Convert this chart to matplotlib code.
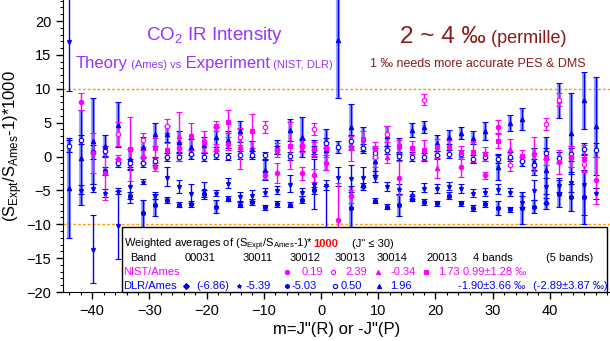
#!/usr/bin/env python3
# -*- coding: utf-8 -*-
import matplotlib
matplotlib.use("Agg")
import matplotlib.pyplot as plt
import numpy as np
from matplotlib.patches import Rectangle
from matplotlib.ticker import MultipleLocator

nan = np.nan

# m = J"(R) or -J"(P): x position of each column of points
m = [-44.1, -41.9, -39.8, -37.7, -35.5, -33.4, -31.2, -29.1, -27.0, -24.8,
     -22.7, -20.5, -18.4, -16.2, -14.1, -12.0, -9.8, -7.7, -5.5, -3.4,
     -1.3, 0.9, 3.0, 5.2, 7.3, 9.5, 11.6, 13.7, 15.9, 18.0,
     20.2, 22.3, 24.5, 26.6, 28.7, 30.9, 33.0, 35.2, 37.3, 39.4,
     41.6, 43.7, 45.9, 48.0]

# DLR/Ames, one value per column
dlr_30014 = [-4.7, -0.2, 2.3, 1.6, 4.7, -0.4, 1.4, 3.3, 3.3, 2.2,
             1.4, 1.7, 2.9, 2.5, 3.7, 1.1, -2.0, 1.4, 3.9, 2.9,
             1.2, 1.0, 17.2, 4.4, 2.6, -0.7, 3.0, 1.6, 3.9, 4.4,
             2.0, 2.9, 3.5, 2.8, 3.8, -1.6, 4.9, 5.5, -0.8, -2.0,
             8.3, 3.4, 8.3, 4.5]
dlr_30014_err = [7.4, 7.0, 6.3, 1.5, 3.3, 1.5, 1.5, 1.7, 1.2, 1.5,
                 1.2, 1.2, 1.5, 1.2, 1.5, 1.2, 1.5, 1.0, 1.6, 3.0,
                 1.2, 3.0, 8.5, 3.4, 1.8, 2.0, 1.5, 1.2, 1.0, 0.9,
                 1.2, 1.0, 0.9, 1.0, 1.3, 1.8, 1.2, 1.6, 2.0, 4.9,
                 2.6, 6.0, 4.2, 7.3]
dlr_30013 = [1.5, 2.5, 0.7, 0.8, -1.0, -0.9, -0.9, -0.6, -0.1, -0.1,
             0.3, -0.1, 0.2, 0.0, 0.2, 0.2, 0.2, 1.0, 0.1, 1.6,
             1.0, 2.0, 1.4, 2.3, 1.2, 0.5, 0.9, 0.1, 0.0, -0.1,
             0.2, 0.4, 0.3, -0.4, 0.0, -0.3, 0.0, -0.7, -1.2, 0.5,
             -0.2, 0.3, 1.1, 1.0]
dlr_30013_err = [0.9, 0.7, 1.0, 0.8, 0.6, 0.6, 0.7, 0.6, 0.6, 0.6,
                 0.6, 0.6, 0.6, 0.5, 0.6, 0.6, 0.5, 0.6, 0.6, 0.8,
                 0.6, 0.8, 0.9, 0.8, 0.7, 0.7, 0.6, 0.6, 0.6, 0.6,
                 0.6, 0.6, 0.6, 0.6, 0.6, 0.7, 0.6, 0.7, 0.8, 0.8,
                 0.8, 0.9, 0.9, 1.0]
dlr_30011 = [nan, -4.9, -4.7, -5.4, -5.1, -4.4, -3.7, -5.7, -3.0, -4.4,
             -5.4, -5.0, -5.4, -3.9, -5.9, -5.7, -5.2, -4.9, -4.0, -5.2,
             -4.0, -4.2, -3.0, -3.2, -3.0, -3.0, -4.4, -4.8, -5.7, -4.6,
             -4.7, -4.4, -4.7, -5.4, -5.2, -4.8, -5.2, -6.7, -4.9, -4.3,
             -4.2, -3.8, -4.1, -5.4]
dlr_30011_err = [nan, 0.7, 0.6, 0.6, 0.4, 2.4, 0.4, 0.5, 1.4, 1.0,
                 1.4, 1.2, 0.5, 0.8, 0.6, 0.8, 0.6, 0.6, 1.2, 0.6,
                 3.7, 0.8, 1.4, 2.0, 1.5, 0.8, 0.7, 0.8, 0.6, 0.7,
                 0.7, 0.6, 0.7, 0.6, 0.6, 0.8, 0.6, 0.8, 1.5, 1.2,
                 1.0, 1.5, 4.5, 0.8]
dlr_30012 = [nan, nan, nan, -2.2, nan, -5.8, -8.4, -7.2, -6.4, -7.1,
             -7.0, -5.5, -7.4, -6.2, -7.1, -6.7, -7.5, -7.0, -7.1, -6.4,
             -5.0, nan, nan, -7.6, -4.4, -6.5, -7.4, -7.2, -6.2, -6.7,
             -6.9, -5.8, -6.9, -7.6, -7.0, -7.6, -7.8, -7.6, -7.4, -6.9,
             -5.5, -6.0, -6.0, nan]
dlr_30012_err = [nan, nan, nan, 0.6, nan, 0.5, 2.0, 1.6, 0.4, 0.4,
                 0.4, 0.5, 1.0, 0.4, 0.4, 0.4, 0.4, 0.4, 0.4, 0.5,
                 0.5, nan, nan, 3.2, 0.5, 0.4, 0.4, 1.6, 0.4, 0.5,
                 0.4, 0.5, 0.4, 0.5, 0.4, 1.0, 0.4, 2.3, 1.0, 0.8,
                 2.0, 2.0, 4.0, nan]
# sparse series: column index, value, error
dlr_00031_idx = [0, 2, 4, 21]
dlr_00031 = [17.0, -13.6, -10.1, -12.0]
dlr_00031_err = [7.3, 5.0, 5.0, 7.7]

# NIST/Ames
nist_30011_idx = [1, 2, 3, 4, 6, 7, 9, 12, 13, 14, 16, 17, 19, 20, 21, 22,
                  23, 27, 32, 34, 35, 38, 40, 41, 43]
nist_30011 = [8.1, 0.5, -2.4, -0.3, 0.0, -1.6, 1.2, 1.0, 1.9, 1.2, -2.7,
              -2.4, -2.5, -2.8, -1.0, -9.4, -5.9, -3.2, -1.5, -2.8, 4.4,
              0.4, -0.8, 0.0, -3.5]
nist_30011_err = [1.3, 3.0, 4.0, 0.5, 1.0, 0.6, 1.0, 0.8, 1.0, 3.0, 0.6,
                  1.5, 1.0, 1.0, 1.0, 5.5, 1.0, 2.5, 1.5, 0.5, 1.0, 2.5,
                  1.8, 1.5, 3.5]
nist_30012_idx = [4, 6, 8, 14, 16, 20, 25, 26, 29, 36, 39, 40, 42]
nist_30012 = [3.3, 2.4, 4.5, 2.9, 4.3, 4.0, 0.0, 3.3, 8.4, -1.2, 4.8, 8.4,
              -1.1]
nist_30012_err = [1.8, 1.0, 1.0, 1.2, 0.9, 0.9, 1.5, 1.2, 0.8, 1.0, 0.9,
                  1.0, 1.0]
nist_30013_idx = [9, 26, 30, 36]
nist_30013 = [3.0, 0.0, -1.7, 1.1]
nist_30013_err = [3.6, 1.0, 1.5, 1.5]
nist_20013_idx = [5, 7, 8, 10, 11, 12, 13, 15, 17, 18, 19, 20, 21, 23, 24,
                  25, 27, 28, 29, 30, 31, 32, 33, 34, 35, 37, 39, 41, 42]
nist_20013 = [1.1, 1.3, 1.0, 3.0, 2.2, 4.5, 5.1, 3.8, 1.0, 1.6, 1.6, 1.1,
              1.2, 1.2, 2.6, 1.1, 1.5, 1.3, 1.0, 1.4, 1.4, 0.6, 0.7, 0.4,
              2.3, 0.1, -0.2, 0.0, -0.3]
nist_20013_err = [4.7, 1.5, 1.0, 2.0, 1.6, 0.8, 1.7, 2.5, 1.0, 3.5, 1.0,
                  1.0, 1.0, 1.8, 1.2, 1.0, 1.0, 1.0, 1.5, 1.2, 1.0, 1.0,
                  1.5, 1.0, 1.0, 0.8, 1.0, 1.5, 2.0]

# weighted averages table
table_bands = ["00031", "30011", "30012", "30013", "30014", "20013",
               "4 bands", "(5 bands)"]
nist_avg = ["0.19", "2.39", "-0.34", "1.73", "0.99\u00b11.28 \u2030"]
dlr_avg = ["(-6.86)", "-5.39", "-5.03", "0.50", "1.96",
           "-1.90\u00b13.66 \u2030", "(-2.89\u00b13.87 \u2030)"]

BLUE = "#0000ff"
BLUE_LIGHT = "#7b86ff"
MAGENTA = "#ff00ff"
PURPLE = "#9933ff"
DARK_RED = "#8b1a1a"
ORANGE = "#ff9900"


def __px(x, y):
  """Reference pixel -> axes fraction."""
  return (x - 63) / 547, (292 - y) / 292


def __series(ax, x, y, err, color, marker, mfc, light=None):
  """One band: error bars with caps and a marker."""
  x = np.asarray(x, float)
  y = np.asarray(y, float)
  err = np.asarray(err, float)
  if light:
    ax.errorbar(x, y, yerr=err, fmt="none", ecolor=light, elinewidth=3,
                alpha=0.75, capsize=0, zorder=2)
  ax.errorbar(x, y, yerr=err, fmt=marker, color=color, mfc=mfc, mec=color,
              ms=3.2, mew=0.8, elinewidth=1, capsize=2.5, capthick=1,
              zorder=3)


def __chain(ax, pieces, x, y):
  """Texts of different sizes on one baseline, starting at pixel x, y."""
  ax_x, ax_y = __px(x, y)
  s, size, color, weight = pieces[0]
  prev = ax.text(ax_x, ax_y, s, fontsize=size, color=color, weight=weight,
                 ha="left", va="baseline", transform=ax.transAxes, zorder=7)
  for s, size, color, weight in pieces[1:]:
    prev = ax.annotate(s, xy=(1.0, ax_y), xycoords=(prev, "axes fraction"),
                       fontsize=size, color=color, weight=weight, ha="left",
                       va="baseline", zorder=7, annotation_clip=False)


def __table(ax):
  """Box of weighted averages at the bottom of the plot."""
  x0, y0 = __px(122, 292)
  x1, y1 = __px(607, 227)
  ax.add_patch(Rectangle((x0, y0), x1 - x0, y1 - y0, transform=ax.transAxes,
                         facecolor="white", edgecolor="black", lw=1,
                         zorder=5, clip_on=False))
  fs = 8

  __chain(ax, [("Weighted averages of (S$_\\mathregular{Expt}$/"
                "S$_\\mathregular{Ames}$-1)*", fs, "black", "normal"),
               ("1000", fs, "red", "bold")], 124, 247)
  ax.text(*__px(373, 244), "(J\" \u2264 30)", fontsize=fs, ha="center",
          va="center", transform=ax.transAxes, zorder=7)

  ax.text(*__px(143, 258), "Band", fontsize=fs, ha="center", va="center",
          transform=ax.transAxes, zorder=7)
  for s, xp in zip(table_bands, [200, 258, 305, 350, 392, 442, 493, 570]):
    ax.text(*__px(xp, 258), s, fontsize=fs, ha="center", va="center",
            transform=ax.transAxes, zorder=7)

  def row(label, color, y, markers, values):
    ax.text(*__px(123, y), label, fontsize=fs, color=color, ha="left",
            va="center", transform=ax.transAxes, zorder=7)
    for xm, mk, mfc in markers:
      ax.plot(*__px(xm, y), marker=mk, color=color, mfc=mfc, ms=3, mew=0.8,
              transform=ax.transAxes, clip_on=False, zorder=7)
    for s, xv in values:
      ax.text(*__px(xv, y), s, fontsize=fs, color=color, ha="center",
              va="center", transform=ax.transAxes, zorder=7)

  row("NIST/Ames", MAGENTA, 272,
      [(287, "o", MAGENTA), (333, "o", "white"), (378, "^", MAGENTA),
       (426, "s", MAGENTA)],
      list(zip(nist_avg, [312, 356, 403, 449, 495])))
  row("DLR/Ames", BLUE, 286,
      [(186, "D", BLUE), (239, "*", BLUE), (287, "h", BLUE),
       (335, "o", "white"), (379, "^", BLUE)],
      list(zip(dlr_avg, [213, 258, 304, 351, 401, 492, 570])))


def __cmd():
  plt.rcParams["font.family"] = ["Liberation Sans", "DejaVu Sans"]
  fig = plt.figure(figsize=(6.1, 3.41), dpi=100)
  ax = fig.add_axes([63 / 610, 49 / 341, 547 / 610, 292 / 341])

  x = np.asarray(m, float)
  ax.axhline(10, color=ORANGE, lw=1, ls=(0, (2, 1.5)), zorder=1)
  ax.axhline(-10, color=ORANGE, lw=1, ls=(0, (2, 1.5)), zorder=1)

  __series(ax, x, dlr_30014, dlr_30014_err, BLUE, "^", BLUE, BLUE_LIGHT)
  __series(ax, x, dlr_30013, dlr_30013_err, BLUE, "o", "white", BLUE_LIGHT)
  __series(ax, x, dlr_30011, dlr_30011_err, BLUE, "*", BLUE)
  __series(ax, x, dlr_30012, dlr_30012_err, BLUE, "h", BLUE, BLUE_LIGHT)
  __series(ax, x[dlr_00031_idx], dlr_00031, dlr_00031_err, BLUE, "*", BLUE)

  __series(ax, x[nist_30011_idx], nist_30011, nist_30011_err, MAGENTA, "o",
           MAGENTA)
  __series(ax, x[nist_30012_idx], nist_30012, nist_30012_err, MAGENTA, "o",
           "white")
  __series(ax, x[nist_30013_idx], nist_30013, nist_30013_err, MAGENTA, "^",
           MAGENTA)
  __series(ax, x[nist_20013_idx], nist_20013, nist_20013_err, MAGENTA, "s",
           MAGENTA)

  ax.set_xlim(-45.1, 50.5)
  ax.set_ylim(-20, 23.1)
  ax.xaxis.set_minor_locator(MultipleLocator(2))
  ax.yaxis.set_minor_locator(MultipleLocator(1))
  ax.set_xticks([-40, -30, -20, -10, 0, 10, 20, 30, 40])
  ax.set_yticks([-20, -15, -10, -5, 0, 5, 10, 15, 20])
  ax.tick_params(which="major", direction="out", length=5, width=1,
                 labelsize=10.5)
  ax.tick_params(which="minor", direction="out", length=2.5, width=0.8)
  for side in ["top", "right"]:
    ax.spines[side].set_visible(False)

  ax.set_xlabel("m=J\"(R) or -J\"(P)", fontsize=12, labelpad=3)
  ax.set_ylabel("(S$_\\mathregular{Expt}$/S$_\\mathregular{Ames}$-1)*1000",
                fontsize=12, labelpad=2)

  ax.text(*__px(215, 36), "CO$_\\mathregular{2}$ IR Intensity",
          fontsize=13.5, color=PURPLE, ha="center", va="center",
          transform=ax.transAxes, zorder=7)
  __chain(ax, [("Theory", 12, PURPLE, "normal"),
               (" (Ames) vs", 8, PURPLE, "normal"),
               (" Experiment", 12, PURPLE, "normal"),
               (" (NIST, DLR)", 8, PURPLE, "normal")], 76, 68)
  __chain(ax, [("2 ~ 4 \u2030", 17.5, DARK_RED, "normal"),
               (" (permille)", 13, DARK_RED, "normal")], 400, 43)
  ax.text(*__px(478, 64), "1 \u2030 needs more accurate PES & DMS",
          fontsize=9, color=DARK_RED, ha="center", va="center",
          transform=ax.transAxes, zorder=7)

  __table(ax)

  fig.savefig("out.png", dpi=100)


if __name__ == '__main__':
  __cmd()
